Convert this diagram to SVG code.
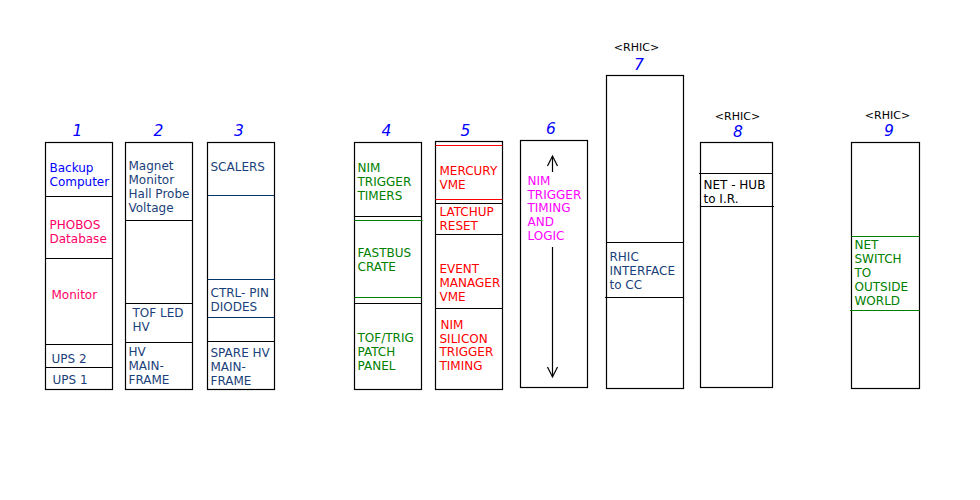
<svg xmlns="http://www.w3.org/2000/svg" width="980" height="500" viewBox="0 0 980 500">
<style>
.rack{fill:#fff;stroke:#000;stroke-width:1.2}
.div{stroke:#000;stroke-width:1.2}
.dn{stroke:#003366;stroke-width:1.2}
.dg{stroke:#008000;stroke-width:1.2}
.dr{stroke:#ff0000;stroke-width:1.2}
text{font-family:"DejaVu Sans","Verdana",sans-serif;font-size:12px}
.num{font-size:15.5px;font-style:italic;fill:#0000ff;text-anchor:middle}
.rh{font-size:11px;fill:#000;text-anchor:middle}
.blue{fill:#0000ff}
.pink{fill:#ff0066}
.navy{fill:#1a3f7a}
.green{fill:#008000}
.red{fill:#ff0000}
.mag{fill:#ff00ff}
.arr{stroke:#000;stroke-width:1.2;fill:none}
</style>
<rect width="980" height="500" fill="#fff"/>

<g id="rack1">
<text class="num" x="77.5" y="136">1</text>
<rect class="rack" x="45.5" y="142.5" width="67" height="247"/>
<line class="div" x1="45.5" y1="196.5" x2="112.5" y2="196.5"/>
<line class="div" x1="45.5" y1="258.5" x2="112.5" y2="258.5"/>
<line class="div" x1="45.5" y1="344.5" x2="112.5" y2="344.5"/>
<line class="div" x1="45.5" y1="367.5" x2="112.5" y2="367.5"/>
<text class="blue" x="49.5" y="172">Backup</text>
<text class="blue" x="49.5" y="186">Computer</text>
<text class="pink" x="49.5" y="229">PHOBOS</text>
<text class="pink" x="49.5" y="243">Database</text>
<text class="pink" x="51.5" y="299">Monitor</text>
<text class="navy" x="51.5" y="363">UPS 2</text>
<text class="navy" x="52.5" y="384">UPS 1</text>
</g>

<g id="rack2">
<text class="num" x="158.5" y="136">2</text>
<rect class="rack" x="125.5" y="142.5" width="67" height="247"/>
<line class="div" x1="125.5" y1="220.5" x2="192.5" y2="220.5"/>
<line class="div" x1="125.5" y1="303.5" x2="192.5" y2="303.5"/>
<line class="div" x1="125.5" y1="342.5" x2="192.5" y2="342.5"/>
<text class="navy" x="128.5" y="170">Magnet</text>
<text class="navy" x="128.5" y="184">Monitor</text>
<text class="navy" x="128.5" y="198">Hall Probe</text>
<text class="navy" x="128.5" y="212">Voltage</text>
<text class="navy" x="132.5" y="317">TOF LED</text>
<text class="navy" x="132.5" y="331">HV</text>
<text class="navy" x="128.5" y="356">HV</text>
<text class="navy" x="128.5" y="370">MAIN-</text>
<text class="navy" x="128.5" y="384">FRAME</text>
</g>

<g id="rack3">
<text class="num" x="239" y="136">3</text>
<rect class="rack" x="207.5" y="142.5" width="67" height="247"/>
<line class="dn" x1="207.5" y1="195.5" x2="274.5" y2="195.5"/>
<line class="dn" x1="207.5" y1="279.5" x2="274.5" y2="279.5"/>
<line class="dn" x1="207.5" y1="317.5" x2="274.5" y2="317.5"/>
<line class="div" x1="207.5" y1="341.5" x2="274.5" y2="341.5"/>
<text class="navy" x="210.5" y="171">SCALERS</text>
<text class="navy" x="210.5" y="297">CTRL- PIN</text>
<text class="navy" x="210.5" y="311">DIODES</text>
<text class="navy" x="210.5" y="357">SPARE HV</text>
<text class="navy" x="210.5" y="371">MAIN-</text>
<text class="navy" x="210.5" y="385">FRAME</text>
</g>

<g id="rack4">
<text class="num" x="386.5" y="136">4</text>
<rect class="rack" x="354.5" y="142.5" width="67" height="247"/>
<line class="div" x1="354.5" y1="216.5" x2="421.5" y2="216.5"/>
<line class="dg" x1="354.5" y1="220.5" x2="422.5" y2="220.5"/>
<line class="dg" x1="354.5" y1="297.5" x2="421.5" y2="297.5"/>
<line class="div" x1="354.5" y1="303.5" x2="421.5" y2="303.5"/>
<text class="green" x="357.5" y="172">NIM</text>
<text class="green" x="357.5" y="186">TRIGGER</text>
<text class="green" x="357.5" y="200">TIMERS</text>
<text class="green" x="357.5" y="257">FASTBUS</text>
<text class="green" x="357.5" y="271">CRATE</text>
<text class="green" x="357.5" y="342">TOF/TRIG</text>
<text class="green" x="357.5" y="356">PATCH</text>
<text class="green" x="357.5" y="369.5">PANEL</text>
</g>

<g id="rack5">
<text class="num" x="465.5" y="136">5</text>
<rect class="rack" x="435.5" y="141.5" width="67" height="248"/>
<line class="dr" x1="435.5" y1="145.5" x2="502.5" y2="145.5"/>
<line class="dr" x1="435.5" y1="199.5" x2="502.5" y2="199.5"/>
<line class="div" x1="435.5" y1="203.5" x2="502.5" y2="203.5"/>
<line class="div" x1="435.5" y1="234.5" x2="502.5" y2="234.5"/>
<line class="div" x1="435.5" y1="308.5" x2="502.5" y2="308.5"/>
<text class="red" x="439.5" y="174.5">MERCURY</text>
<text class="red" x="439.5" y="188.5">VME</text>
<text class="red" x="439.5" y="216">LATCHUP</text>
<text class="red" x="439.5" y="230">RESET</text>
<text class="red" x="439.5" y="273">EVENT</text>
<text class="red" x="439.5" y="287">MANAGER</text>
<text class="red" x="439.5" y="300.5">VME</text>
<text class="red" x="440.5" y="328.5">NIM</text>
<text class="red" x="439.5" y="342.5">SILICON</text>
<text class="red" x="439.5" y="356">TRIGGER</text>
<text class="red" x="439.5" y="370">TIMING</text>
</g>

<g id="rack6">
<text class="num" x="551" y="134">6</text>
<rect class="rack" x="520.5" y="140.5" width="67" height="247"/>
<line class="arr" x1="552.5" y1="156" x2="552.5" y2="172"/>
<polyline class="arr" points="547.5,166 552.5,156 557.5,166"/>
<line class="arr" x1="552.5" y1="247" x2="552.5" y2="377"/>
<polyline class="arr" points="547.5,367 552.5,377 557.5,367"/>
<text class="mag" x="527.5" y="184.5">NIM</text>
<text class="mag" x="527.5" y="198.5">TRIGGER</text>
<text class="mag" x="527.5" y="212">TIMING</text>
<text class="mag" x="527.5" y="226">AND</text>
<text class="mag" x="527.5" y="240">LOGIC</text>
</g>

<g id="rack7">
<text class="rh" x="636.5" y="51">&lt;RHIC&gt;</text>
<text class="num" x="639" y="70">7</text>
<rect class="rack" x="606.5" y="75.5" width="77" height="313"/>
<line class="div" x1="606.5" y1="242.5" x2="683.5" y2="242.5"/>
<line class="div" x1="605" y1="297.5" x2="683.5" y2="297.5"/>
<text class="navy" x="609.5" y="261">RHIC</text>
<text class="navy" x="609.5" y="275">INTERFACE</text>
<text class="navy" x="609.5" y="289">to CC</text>
</g>

<g id="rack8">
<text class="rh" x="737.5" y="119.5">&lt;RHIC&gt;</text>
<text class="num" x="738" y="137">8</text>
<rect class="rack" x="700.5" y="142.5" width="72" height="245"/>
<line class="div" x1="699" y1="173.5" x2="772.5" y2="173.5"/>
<line class="div" x1="700.5" y1="206.5" x2="774" y2="206.5"/>
<text x="703.5" y="189">NET - HUB</text>
<text x="703.5" y="203">to I.R.</text>
</g>

<g id="rack9">
<text class="rh" x="887.5" y="119">&lt;RHIC&gt;</text>
<text class="num" x="889" y="136">9</text>
<rect class="rack" x="851.5" y="142.5" width="68" height="246"/>
<line class="dg" x1="851.5" y1="236.5" x2="919.5" y2="236.5"/>
<line class="dg" x1="850" y1="310.5" x2="919.5" y2="310.5"/>
<text class="green" x="854.5" y="249">NET</text>
<text class="green" x="854.5" y="263">SWITCH</text>
<text class="green" x="854.5" y="277">TO</text>
<text class="green" x="854.5" y="291">OUTSIDE</text>
<text class="green" x="854.5" y="305">WORLD</text>
</g>

<g id="connectors"></g>
</svg>
